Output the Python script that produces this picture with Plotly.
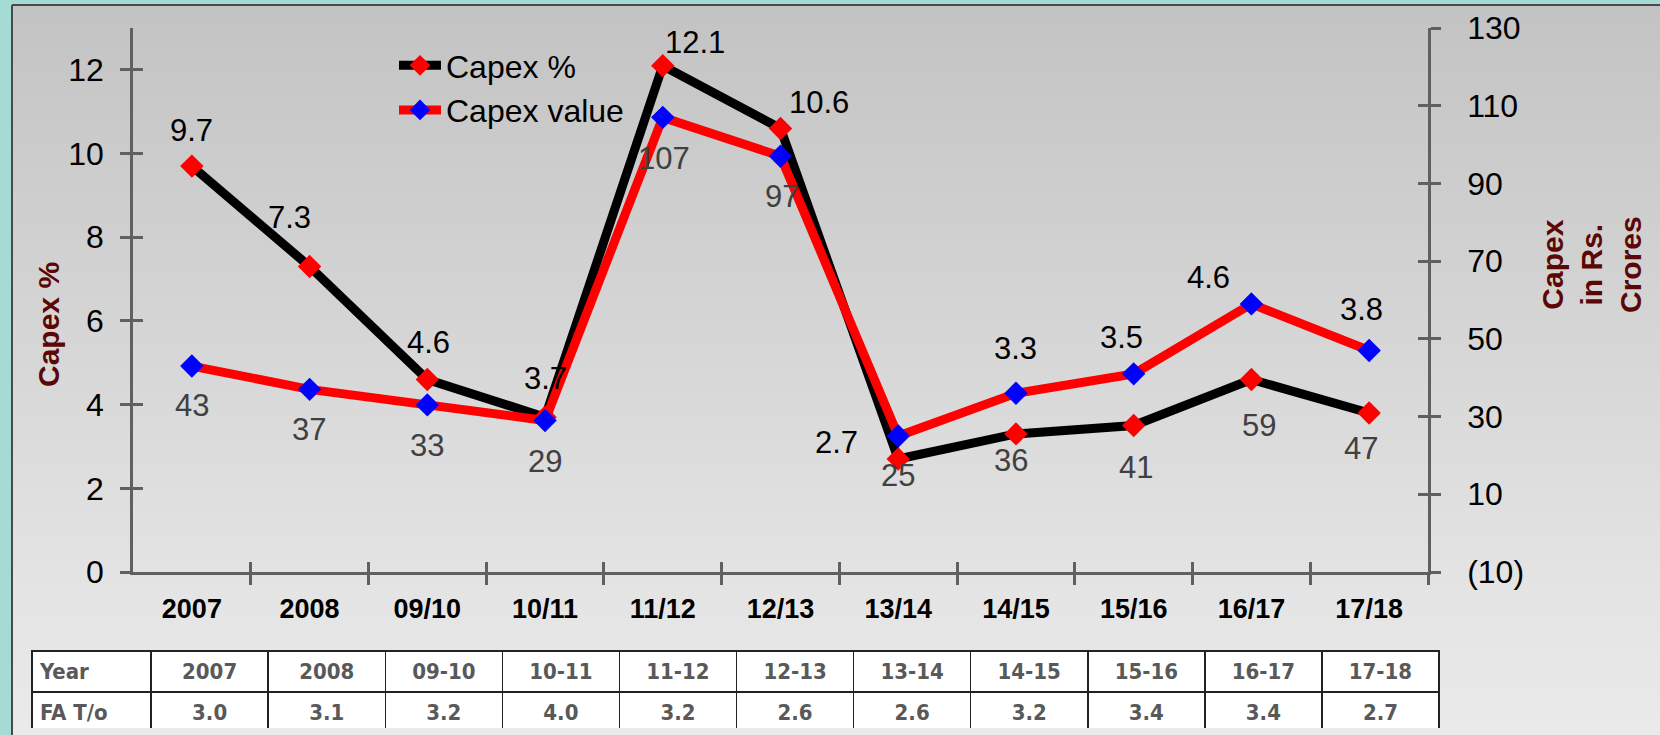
import base64
import plotly.graph_objects as go

# chart data
years = ["2007", "2008", "09/10", "10/11", "11/12", "12/13", "13/14", "14/15", "15/16", "16/17", "17/18"]
capex_pct = [9.7, 7.3, 4.6, 3.7, 12.1, 10.6, 2.7, 3.3, 3.5, 4.6, 3.8]
capex_value = [43, 37, 33, 29, 107, 97, 25, 36, 41, 59, 47]

table_years = ["2007", "2008", "09-10", "10-11", "11-12", "12-13", "13-14", "14-15", "15-16", "16-17", "17-18"]
fa_turnover = ["3.0", "3.1", "3.2", "4.0", "3.2", "2.6", "2.6", "3.2", "3.4", "3.4", "2.7"]

left_ticks = [0, 2, 4, 6, 8, 10, 12]
right_ticks = [-10, 10, 30, 50, 70, 90, 110, 130]
right_tick_text = ["(10)", "10", "30", "50", "70", "90", "110", "130"]

# label placement (pixel offsets from each point, screen y down)
pct_offsets = [(0, -36), (-20, -49), (1, -37), (0, -39), (32, -23), (38, -26),
               (-62, -17), (0, -85), (-12, -88), (-43, -102), (-8, -103)]
value_offsets = [(0, 39), (-1, 40), (0, 41), (0, 41), (1, 41), (1, 40),
                 (0, 39), (-5, 67), (2, 94), (8, 122), (-8, 98)]

W, H = 1660, 735
FONT = "Liberation Sans, Arial, sans-serif"
NARROW = "Liberation Sans Narrow, Arial Narrow, DejaVu Sans Condensed, sans-serif"
AX = "#606060"


def px(x):
    return x / W


def py(y):
    return 1 - y / H


x_dom = [px(133), px(1428)]
y_dom = [py(572), py(28)]
x_idx = list(range(len(years)))
bounds = [i + 0.5 for i in x_idx]

fig = go.Figure()

fig.add_trace(go.Scatter(
    x=x_idx, y=capex_pct, name="Capex %", mode="lines+markers",
    line=dict(color="black", width=9),
    marker=dict(symbol="diamond", size=18, color="#ff0000"),
))
fig.add_trace(go.Scatter(
    x=x_idx, y=capex_value, name="Capex value", mode="lines+markers", yaxis="y2",
    line=dict(color="#ff0000", width=9),
    marker=dict(symbol="diamond", size=18, color="#0000ff"),
))
# carriers for the inner halves of the crossing ticks
fig.add_trace(go.Scatter(x=[], y=[], xaxis="x2", yaxis="y3", showlegend=False, hoverinfo="skip"))
fig.add_trace(go.Scatter(x=[], y=[], xaxis="x2", yaxis="y4", showlegend=False, hoverinfo="skip"))

# FA turnover table
fig.add_trace(go.Table(
    domain=dict(x=[px(32), px(1439)], y=[py(728), py(651)]),
    columnwidth=[119] + [117] * len(table_years),
    header=dict(
        values=["<b>Year</b>"] + ["<b>%s</b>" % t for t in table_years],
        fill_color="white", line=dict(color="#222222", width=1.5),
        align=["left"] + ["center"] * len(table_years), height=29,
        font=dict(family=NARROW, size=22, color="#595959"),
    ),
    cells=dict(
        values=[["<b>FA T/o</b>"]] + [["<b>%s</b>" % v] for v in fa_turnover],
        fill_color="white", line=dict(color="#222222", width=1.5),
        align=["left"] + ["center"] * len(fa_turnover), height=29,
        font=dict(family=NARROW, size=22, color="#595959"),
    ),
))

annotations = []
for i, (v, (dx, dy)) in enumerate(zip(capex_pct, pct_offsets)):
    annotations.append(dict(x=i, y=v, xref="x", yref="y", text=str(v), showarrow=False,
                            xshift=dx, yshift=-dy, font=dict(family=FONT, size=31, color="black")))
for i, (v, (dx, dy)) in enumerate(zip(capex_value, value_offsets)):
    annotations.append(dict(x=i, y=v, xref="x", yref="y2", text=str(v), showarrow=False,
                            xshift=dx, yshift=-dy, font=dict(family=FONT, size=31, color="#404040")))
annotations.append(dict(x=px(48), y=py(325), xref="paper", yref="paper", text="<b>Capex %</b>",
                        textangle=-90, showarrow=False, xanchor="center", yanchor="middle",
                        font=dict(family=FONT, size=30, color="#5c0606")))
annotations.append(dict(x=px(1592), y=py(265), xref="paper", yref="paper",
                        text="<b>Capex<br>in Rs.<br>Crores</b>", textangle=-90, showarrow=False,
                        xanchor="center", yanchor="middle",
                        font=dict(family=FONT, size=30, color="#5c0606")))

# gray gradient panel behind everything
svg = ('<svg xmlns="http://www.w3.org/2000/svg" width="1647" height="729" '
       'preserveAspectRatio="none"><defs><linearGradient id="g" x1="0" y1="0" x2="0" y2="1">'
       '<stop offset="0" stop-color="#c3c3c3"/><stop offset="0.8" stop-color="#e4e4e4"/>'
       '<stop offset="1" stop-color="#eaeaea"/></linearGradient></defs>'
       '<rect width="1647" height="729" fill="url(#g)"/></svg>')
bg = "data:image/svg+xml;base64," + base64.b64encode(svg.encode()).decode()

axis_common = dict(showgrid=False, zeroline=False, linecolor=AX, linewidth=2.5,
                   tickcolor=AX, tickwidth=2.5, ticklen=10)
inner_common = {k: v for k, v in axis_common.items() if k not in ("linecolor", "linewidth")}

fig.update_layout(
    width=W, height=H, autosize=False,
    margin=dict(l=0, r=0, t=0, b=0),
    paper_bgcolor="#a4dbd2", plot_bgcolor="rgba(0,0,0,0)",
    template="none",
    font=dict(family=FONT, size=30, color="black"),
    showlegend=True,
    legend=dict(x=px(394), y=py(38), xanchor="left", yanchor="top", itemwidth=42,
                bgcolor="rgba(0,0,0,0)", font=dict(family=FONT, size=32, color="black"),
                tracegroupgap=0),
    images=[dict(source=bg, xref="paper", yref="paper", x=px(13), y=py(6),
                 sizex=px(1647), sizey=729 / H, sizing="stretch", layer="below")],
    shapes=[
        dict(type="line", xref="paper", yref="paper", x0=px(12), x1=px(12), y0=py(5), y1=0,
             line=dict(color="#4a4a4a", width=2), layer="below"),
        dict(type="line", xref="paper", yref="paper", x0=px(12), x1=1, y0=py(5), y1=py(5),
             line=dict(color="#4a4a4a", width=2), layer="below"),
    ],
    xaxis=dict(domain=x_dom, range=[-0.5, 10.5], anchor="y", showline=True,
               tickmode="array", tickvals=x_idx, ticktext=years, ticks="",
               ticklabelstandoff=11, automargin=False,
               tickfont=dict(family=FONT, size=27, color="black", weight="bold"),
               minor=dict(tickmode="array", tickvals=bounds, ticks="outside",
                          ticklen=10, tickwidth=2.5, tickcolor=AX),
               showgrid=False, zeroline=False, linecolor=AX, linewidth=2.5),
    xaxis2=dict(domain=x_dom, range=[-0.5, 10.5], overlaying="x", anchor="y", side="bottom",
                showline=False, showticklabels=False, tickmode="array", tickvals=bounds,
                ticks="inside", automargin=False, **inner_common),
    yaxis=dict(domain=y_dom, range=[0, 13], anchor="x", showline=True, side="left",
               tickmode="array", tickvals=left_ticks, ticks="outside", ticklabelstandoff=10,
               tickfont=dict(family=FONT, size=32, color="black"), automargin=False,
               **axis_common),
    yaxis3=dict(domain=y_dom, range=[0, 13], anchor="x", overlaying="y", side="left",
                showline=False, showticklabels=False, tickmode="array", tickvals=left_ticks,
                ticks="inside", automargin=False, **inner_common),
    yaxis2=dict(domain=y_dom, range=[-10, 130], anchor="x", overlaying="y", side="right",
                showline=True, tickmode="array", tickvals=right_ticks, ticktext=right_tick_text,
                ticks="outside", ticklabelstandoff=20, automargin=False,
                tickfont=dict(family=FONT, size=32, color="black"), **axis_common),
    yaxis4=dict(domain=y_dom, range=[-10, 130], anchor="x", overlaying="y", side="right",
                showline=False, showticklabels=False, tickmode="array", tickvals=right_ticks,
                ticks="inside", automargin=False, **inner_common),
    annotations=annotations,
)

# page body has a default 8px margin; drop it so the figure sits at the window origin
fig.write_html("out.html", config={"displayModeBar": False},
               post_script="document.body.style.margin='0px';")
